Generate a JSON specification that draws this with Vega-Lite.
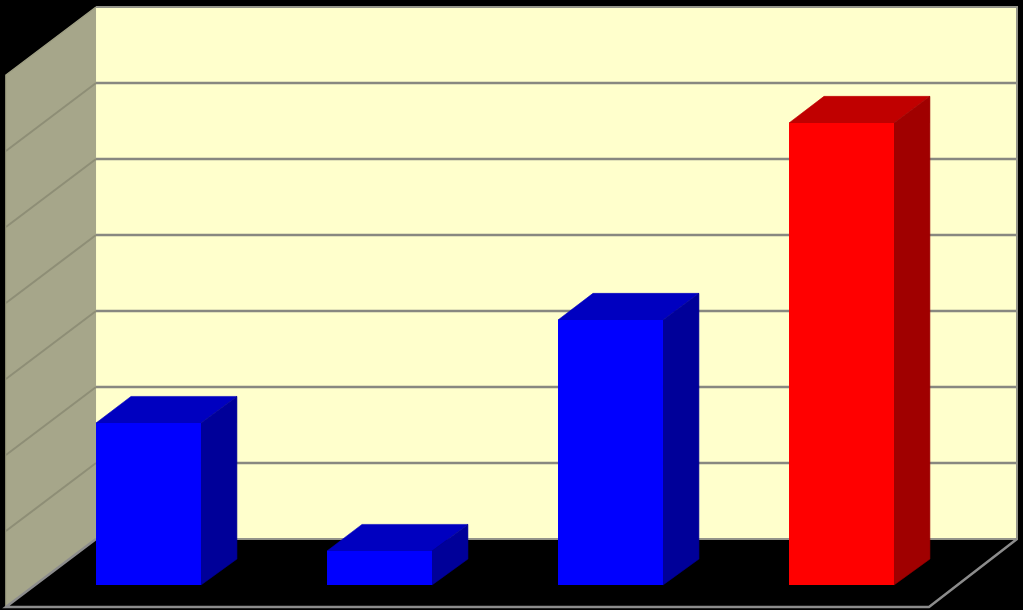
{"$schema":"https://vega.github.io/schema/vega-lite/v6.json","width":1023,"height":610,"autosize":{"type":"fit","contains":"padding"},"padding":0,"background":"#000000","view":{"stroke":null},
"config":{"axis":{"domain":false,"grid":false,"ticks":false,"labels":false,"title":null}},
"datasets":{
"bars":[{"cat":"A","start":0,"end":0.4545,"base":-0.605,"top":1.526,"color":"blue"},{"cat":"B","start":1,"end":1.4545,"base":-0.605,"top":-0.158,"color":"blue"},{"cat":"C","start":2,"end":2.4545,"base":-0.605,"top":2.882,"color":"blue"},{"cat":"D","start":3,"end":3.4545,"base":-0.605,"top":5.474,"color":"red"}],
"sidesBlue":[{"cat":"A","x":0.4545,"top":1.526,"base":-0.605},{"cat":"A","x":0.61,"top":1.876,"base":-0.263},{"cat":"B","x":1.4545,"top":-0.158,"base":-0.605},{"cat":"B","x":1.61,"top":0.192,"base":-0.263},{"cat":"C","x":2.4545,"top":2.882,"base":-0.605},{"cat":"C","x":2.61,"top":3.232,"base":-0.263}],
"sidesRed":[{"cat":"D","x":3.4545,"top":5.474,"base":-0.605},{"cat":"D","x":3.61,"top":5.824,"base":-0.263}],
"topsBlue":[{"cat":"A","y":1.526,"left":0,"right":0.4545},{"cat":"A","y":1.876,"left":0.1515,"right":0.61},{"cat":"B","y":-0.158,"left":1,"right":1.4545},{"cat":"B","y":0.192,"left":1.1515,"right":1.61},{"cat":"C","y":2.882,"left":2,"right":2.4545},{"cat":"C","y":3.232,"left":2.1515,"right":2.61}],
"topsRed":[{"cat":"D","y":5.474,"left":3,"right":3.4545},{"cat":"D","y":5.824,"left":3.1515,"right":3.61}],
"wall":[{"x":-0.39,"top":6.105,"base":-0.895},{"x":0,"top":7,"base":0}],
"back":[{"left":0,"right":3.987,"base":0,"top":7}],
"grid":[{"k":1},{"k":2},{"k":3},{"k":4},{"k":5},{"k":6}],
"sideGrid":[{"k":1,"x":-0.39,"y":0.105},{"k":1,"x":0,"y":1},{"k":2,"x":-0.39,"y":1.105},{"k":2,"x":0,"y":2},{"k":3,"x":-0.39,"y":2.105},{"k":3,"x":0,"y":3},{"k":4,"x":-0.39,"y":3.105},{"k":4,"x":0,"y":4},{"k":5,"x":-0.39,"y":4.105},{"k":5,"x":0,"y":5},{"k":6,"x":-0.39,"y":5.105},{"k":6,"x":0,"y":6}],
"frame":[{"edge":"backWall","i":0,"x":0,"y":7},{"edge":"backWall","i":1,"x":3.987,"y":7},{"edge":"backWall","i":2,"x":3.987,"y":0},{"edge":"backWall","i":3,"x":0,"y":0}],
"wallEdge":[{"i":0,"x":-0.39,"y":-0.895},{"i":1,"x":-0.39,"y":6.105},{"i":2,"x":0,"y":7}],
"floor":[{"edge":"floor","i":0,"x":0,"y":0},{"edge":"floor","i":1,"x":-0.39,"y":-0.895},{"edge":"floor","i":2,"x":3.606,"y":-0.895},{"edge":"floor","i":3,"x":3.987,"y":0}]
},
"encoding":{},
"layer":[
{"data":{"name":"back"},"mark":{"type":"rect","fill":"#FFFFCC"},"encoding":{"x":{"field":"left","type":"quantitative","scale":{"domain":[-0.4113,4.0173],"range":[0,1023],"nice":false,"zero":false},"axis":null},"x2":{"field":"right"},"y":{"field":"base","type":"quantitative","scale":{"domain":[-0.934,7.092],"range":[610,0],"nice":false,"zero":false},"axis":null},"y2":{"field":"top"}}},
{"data":{"name":"wall"},"mark":{"type":"area","fill":"#A6A68A","opacity":1},"encoding":{"x":{"field":"x","type":"quantitative"},"y":{"field":"top","type":"quantitative"},"y2":{"field":"base"}}},
{"data":{"name":"wallEdge"},"mark":{"type":"line","color":"#A0A084","strokeWidth":1.5},"encoding":{"x":{"field":"x","type":"quantitative"},"y":{"field":"y","type":"quantitative"},"order":{"field":"i"}}},
{"data":{"name":"grid"},"mark":{"type":"rule","color":"#888880","strokeWidth":2.5},"encoding":{"y":{"field":"k","type":"quantitative"},"x":{"datum":0,"type":"quantitative"},"x2":{"datum":3.987}}},
{"data":{"name":"sideGrid"},"mark":{"type":"line","color":"#8E8E76","strokeWidth":2},"encoding":{"x":{"field":"x","type":"quantitative"},"y":{"field":"y","type":"quantitative"},"detail":{"field":"k"}}},
{"data":{"name":"frame"},"mark":{"type":"line","color":"#94948A","strokeWidth":2},"encoding":{"x":{"field":"x","type":"quantitative"},"y":{"field":"y","type":"quantitative"},"detail":{"field":"edge"},"order":{"field":"i"}}},
{"data":{"name":"floor"},"mark":{"type":"line","color":"#8C8C8C","strokeWidth":2.5},"encoding":{"x":{"field":"x","type":"quantitative"},"y":{"field":"y","type":"quantitative"},"detail":{"field":"edge"},"order":{"field":"i"}}},
{"data":{"name":"topsBlue"},"mark":{"type":"area","orient":"horizontal","opacity":1,"fill":"#0000C0","stroke":"#0000C0","strokeWidth":0.6},"encoding":{"y":{"field":"y","type":"quantitative"},"x":{"field":"left","type":"quantitative"},"x2":{"field":"right"},"detail":{"field":"cat"}}},
{"data":{"name":"topsRed"},"mark":{"type":"area","orient":"horizontal","opacity":1,"fill":"#C00000","stroke":"#C00000","strokeWidth":0.6},"encoding":{"y":{"field":"y","type":"quantitative"},"x":{"field":"left","type":"quantitative"},"x2":{"field":"right"},"detail":{"field":"cat"}}},
{"data":{"name":"sidesBlue"},"mark":{"type":"area","opacity":1,"fill":"#000099","stroke":"#000099","strokeWidth":0.6},"encoding":{"x":{"field":"x","type":"quantitative"},"y":{"field":"top","type":"quantitative"},"y2":{"field":"base"},"detail":{"field":"cat"}}},
{"data":{"name":"sidesRed"},"mark":{"type":"area","opacity":1,"fill":"#A00000","stroke":"#A00000","strokeWidth":0.6},"encoding":{"x":{"field":"x","type":"quantitative"},"y":{"field":"top","type":"quantitative"},"y2":{"field":"base"},"detail":{"field":"cat"}}},
{"data":{"name":"bars"},"mark":{"type":"rect","opacity":1},"encoding":{"x":{"field":"start","type":"quantitative"},"x2":{"field":"end"},"y":{"field":"base","type":"quantitative"},"y2":{"field":"top"},"fill":{"field":"color","type":"nominal","legend":null,"scale":{"domain":["blue","red"],"range":["#0000FF","#FF0000"]}}}}
]}
